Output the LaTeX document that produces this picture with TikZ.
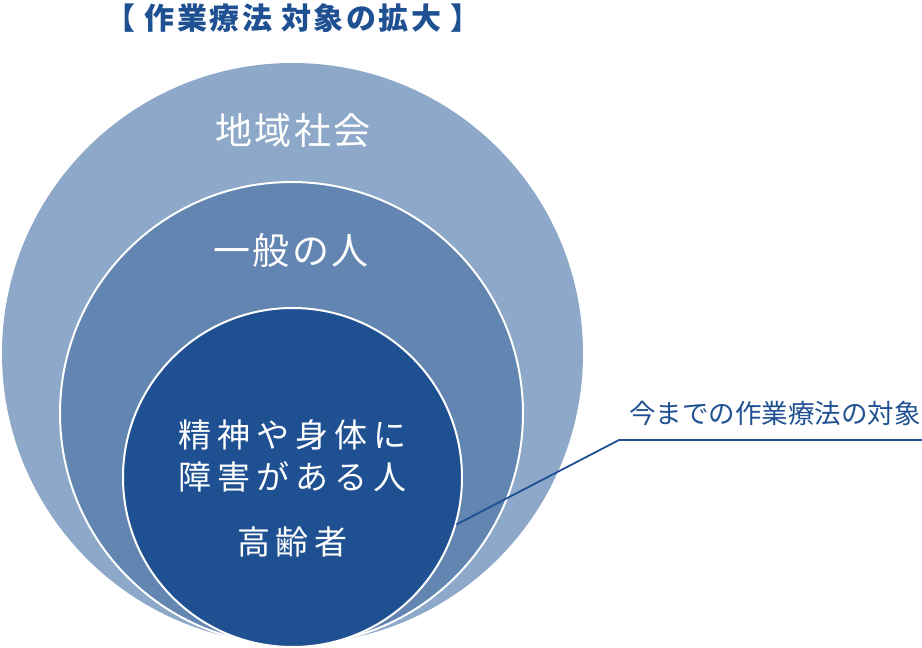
\documentclass[tikz,border=0pt]{standalone}
\usepackage{fontspec}
\newfontfamily\jp{Noto Sans CJK JP}
\newfontfamily\jptitle[LetterSpace=8]{Noto Sans CJK JP}
\newfontfamily\jpwide[LetterSpace=6]{Noto Sans CJK JP}
\newfontfamily\jpwider[LetterSpace=18]{Noto Sans CJK JP}
\definecolor{outerblue}{HTML}{8DA8C8}
\definecolor{midblue}{HTML}{6285B2}
\definecolor{innerblue}{HTML}{1F5192}
\tikzset{
  ring/.style={circle, inner sep=0pt, draw=white, line width=2pt},
  ringlabel/.style={text=white, inner sep=0pt, font=\jpwide\fontsize{37}{40}\selectfont},
  corelabel/.style={text=white, inner sep=0pt, align=center, font=\jpwider\fontsize{33}{42}\selectfont}
}
\begin{document}
\begin{tikzpicture}[x=1pt,y=-1pt]
  \useasboundingbox (0,0) rectangle (922,648);
  % circles
  \node[circle, inner sep=0pt, fill=outerblue, minimum size=581pt] (society) at (292.5,353.5) {};
  \node[ring, fill=midblue, minimum size=463pt] (general) at (291.5,413.5) {};
  \node[ring, fill=innerblue, minimum size=339pt] (core) at (292.5,477.5) {};
  % labels
  \node[text=innerblue, font=\jptitle\bfseries\fontsize{30}{32}\selectfont] (title) at (293,18) {【 作業療法 対象の拡大 】};
  \node[ringlabel] (societylabel) at (293,130) {地域社会};
  \node[ringlabel] (generallabel) at (291,250) {一般の人};
  \node[corelabel] (corelabel) at (292.5,456) {精神や身体に\\障害がある人};
  \node[corelabel] (elderlabel) at (292.5,542) {高齢者};
  \node[text=innerblue, inner sep=0pt, anchor=east, font=\jp\fontsize{26.5}{28}\selectfont] (target) at (921,413) {今までの作業療法の対象};
  % callout
  \coordinate (bend) at (619,440);
  \coordinate (lineend) at (922,440);
  \draw[innerblue, line width=1.8pt] (core.-16) -- (bend) -- (lineend);
\end{tikzpicture}
\end{document}
